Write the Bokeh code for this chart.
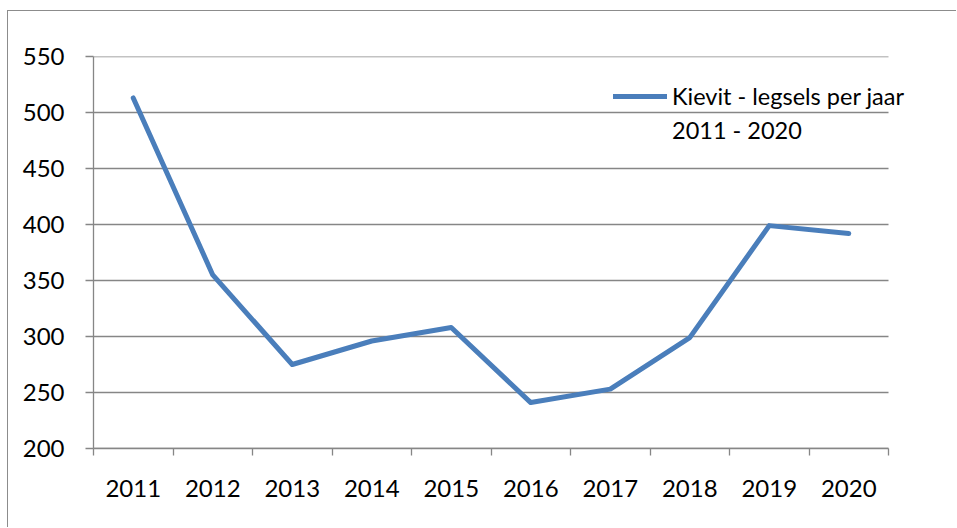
from bokeh.plotting import figure
from bokeh.models import FixedTicker, Legend, LegendItem, Range1d
from bokeh.embed import file_html
from bokeh.resources import INLINE

years = ["2011", "2012", "2013", "2014", "2015", "2016", "2017", "2018", "2019", "2020"]
legsels = [513, 355, 275, 296, 308, 241, 253, 299, 399, 392]
y_ticks = [200, 250, 300, 350, 400, 450, 500, 550]
series_label = ["Kievit - legsels per jaar", "2011 - 2020"]

FONT = "Lato"
GRAY = "#868686"
BLUE = "#4A7EBB"

n = len(years)
xs = [i + 0.5 for i in range(n)]
plot_w = 795        # pixel width of the category area
frame_w = 848       # frame extended to the right so the legend text is not clipped

p = figure(width=949, height=517, output_backend="svg", toolbar_location=None,
           x_range=Range1d(0, n * frame_w / plot_w), y_range=Range1d(200, 550),
           min_border_left=85, min_border_right=949 - 85 - frame_w,
           min_border_top=45, min_border_bottom=80)
p.margin = (10, 0, 0, 7)
p.styles = {"border-left": "1px solid #8c8c8c", "border-top": "1px solid #8c8c8c"}
p.outline_line_color = None
p.background_fill_color = "white"
p.border_fill_color = "white"

# horizontal gridlines, limited to the category area
p.segment(x0=[0] * len(y_ticks), x1=[n] * len(y_ticks), y0=y_ticks, y1=y_ticks,
          line_color=GRAY, line_width=1.3)
p.xgrid.grid_line_color = None
p.ygrid.grid_line_color = None

r = p.line(xs, legsels, line_color=BLUE, line_width=5, line_cap="round", line_join="round")
r_blank = p.line([], [], line_alpha=0)

# x axis: labels at category centres, ticks at boundaries
p.xaxis.bounds = (0, n)
p.xaxis.ticker = FixedTicker(ticks=xs, minor_ticks=list(range(n + 1)))
p.xaxis.major_label_overrides = {x: y for x, y in zip(xs, years)}
p.xaxis.major_tick_out = 0
p.xaxis.major_tick_in = 0
p.xaxis.minor_tick_out = 7
p.xaxis.minor_tick_in = 0
p.xaxis.minor_tick_line_color = GRAY
p.xaxis.minor_tick_line_width = 1.3
p.xaxis.major_label_standoff = 24

p.yaxis.ticker = FixedTicker(ticks=y_ticks)
p.yaxis.major_tick_out = 8
p.yaxis.major_tick_in = 0
p.yaxis.minor_tick_line_color = None
p.yaxis.major_label_standoff = 21
p.yaxis.major_tick_line_color = GRAY
p.yaxis.major_tick_line_width = 1.3

for ax in (p.xaxis[0], p.yaxis[0]):
    ax.axis_line_color = GRAY
    ax.axis_line_width = 1.3
    ax.major_label_text_font = FONT
    ax.major_label_text_font_size = "24px"
    ax.major_label_text_color = "black"

legend = Legend(items=[LegendItem(label=series_label[0], renderers=[r]),
                       LegendItem(label=series_label[1], renderers=[r_blank])],
                location=(520, 303), padding=0, margin=0, spacing=4,
                glyph_width=54, glyph_height=30, label_height=30, label_standoff=5,
                label_text_font=FONT, label_text_font_size="23.5px", label_text_color="black",
                border_line_color=None, background_fill_alpha=0)
p.add_layout(legend, "center")

open("out.html", "w").write(file_html(p, INLINE))
